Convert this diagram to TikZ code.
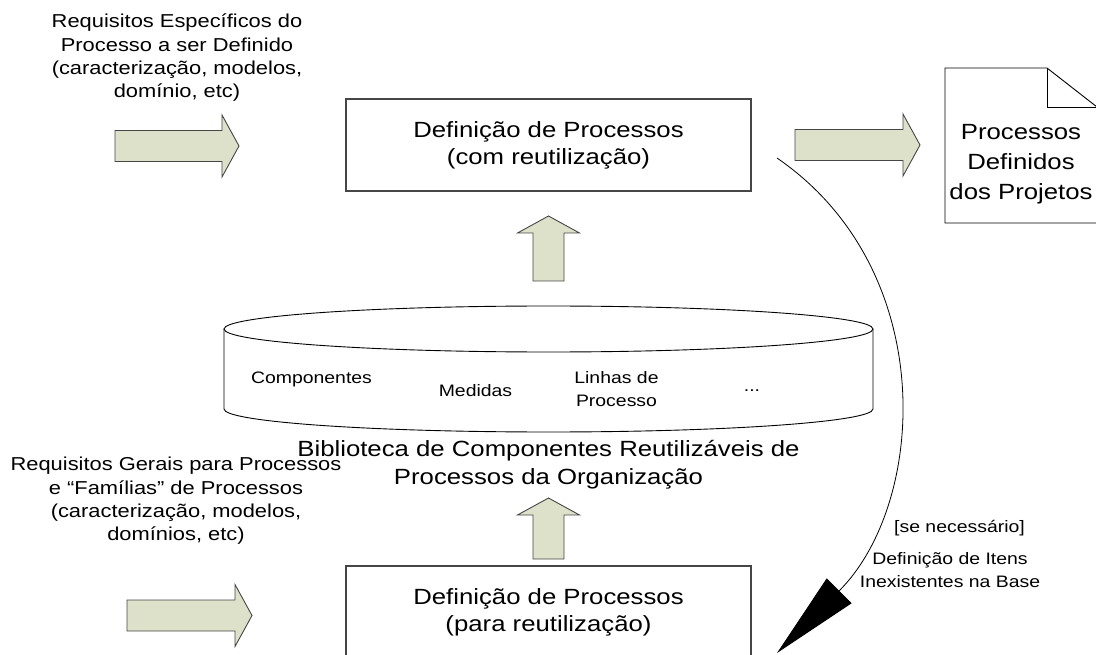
\documentclass[tikz,border=0pt]{standalone}
\usepackage{fontspec}
\setmainfont{Liberation Sans}[FakeStretch=1.17]
\usetikzlibrary{arrows.meta,positioning}
\definecolor{arrowgreen}{RGB}{221,225,201}
\definecolor{edgegray}{RGB}{70,70,70}
\tikzset{
  %define style for boxes
  procbox/.style={
    rectangle,
    draw=edgegray, line width=1.1pt,
    minimum width=405pt,
    minimum height=92pt,
    inner sep=0pt,
    align=center,
    font=\fontsize{22}{27}\selectfont},
  %define style for texts
  bigtext/.style={
    align=center, inner sep=0pt,
    font=\fontsize{22}{28}\selectfont},
  smalltext/.style={
    align=center, inner sep=0pt,
    font=\fontsize{18.7}{23.3}\selectfont},
  itemtext/.style={
    align=center, inner sep=0pt,
    font=\fontsize{16.6}{22.5}\selectfont},
  %define style for library and document outline
  outline/.style={
    draw=black, line width=0.9pt},
  %define style for the fat arrows
  fatarrow/.style={
    fill=arrowgreen, draw=edgegray,
    line width=0.9pt, line join=miter},
  pics/bigarrow/.style={code={
    \draw[fatarrow] (0,-15.5) -- ({#1-17},-15.5) -- ({#1-17},-31) -- (#1,0)
      -- ({#1-17},31) -- ({#1-17},15.5) -- (0,15.5) -- cycle;}},
  pics/bigarrow/.default=124,
  %define style for the loop arrow
  looparrow/.style={
    -{Triangle[length=88pt,width=35pt]},
    line width=0.8pt}
}
\begin{document}
\begin{tikzpicture}[x=1pt, y=-1pt]
\useasboundingbox (0,0) rectangle (1096,655);
\clip (0,0) rectangle (1096,655);

%nodes
\node[procbox] (reuse) at (548.5,145) {Definição de Processos\\(com reutilização)};
\node[procbox] (forreuse) at (548.5,612) {Definição de Processos\\(para reutilização)};

\node[smalltext] (specreq) at (177,58)
     {Requisitos Específicos do\\Processo a ser Definido\\(caracterização, modelos,\\domínio, etc)};
\node[smalltext] (genreq) at (176,501)
     {Requisitos Gerais para Processos\\e “Famílias” de Processos\\(caracterização, modelos,\\domínios, etc)};

%library
\draw[outline] (224,329) -- (224,409)
  arc[start angle=180, end angle=0, x radius=324.5, y radius=23] -- (873,329);
\draw[outline] (548.5,329) ellipse[x radius=324.5, y radius=23];
\node[itemtext, anchor=base] (comp) at (311.5,383) {Componentes};
\node[itemtext, anchor=base] (meas) at (475.5,396) {Medidas};
\node[itemtext] (plines) at (616.5,389) {Linhas de\\Processo};
\node[itemtext, anchor=base] (more) at (752,391) {...};
\node[bigtext] (library) at (548.5,465)
     {Biblioteca de Componentes Reutilizáveis de\\Processos da Organização};

%document
\draw[outline] (945,68) -- (1047,68) -- (1097,107) -- (1097,223) -- (945,223) -- cycle;
\draw[outline] (1047,68) -- (1047,107) -- (1097,107);
\node[bigtext, font=\fontsize{22}{30}\selectfont] (projdoc) at (1021,164.3)
     {Processos\\Definidos\\dos Projetos};

%fat arrows
\pic at (115,146) {bigarrow=124};
\pic at (795,145) {bigarrow=125};
\pic at (127,615.5) {bigarrow=125};
\pic[rotate=90] at (548.5,281) {bigarrow=65};
\pic[rotate=90] at (548.5,559) {bigarrow=61};

%loop back to the library
\coordinate (loopstart) at (777,158);
\coordinate (looptip) at (777,653);
\draw[looparrow] (loopstart) .. controls (940,270) and (927,503) .. (looptip);
\node[itemtext, anchor=base] (ifneeded) at (959.5,532) {[se necessário]};
\node[itemtext] (missing) at (950,570) {Definição de Itens\\Inexistentes na Base};

\end{tikzpicture}
\end{document}
